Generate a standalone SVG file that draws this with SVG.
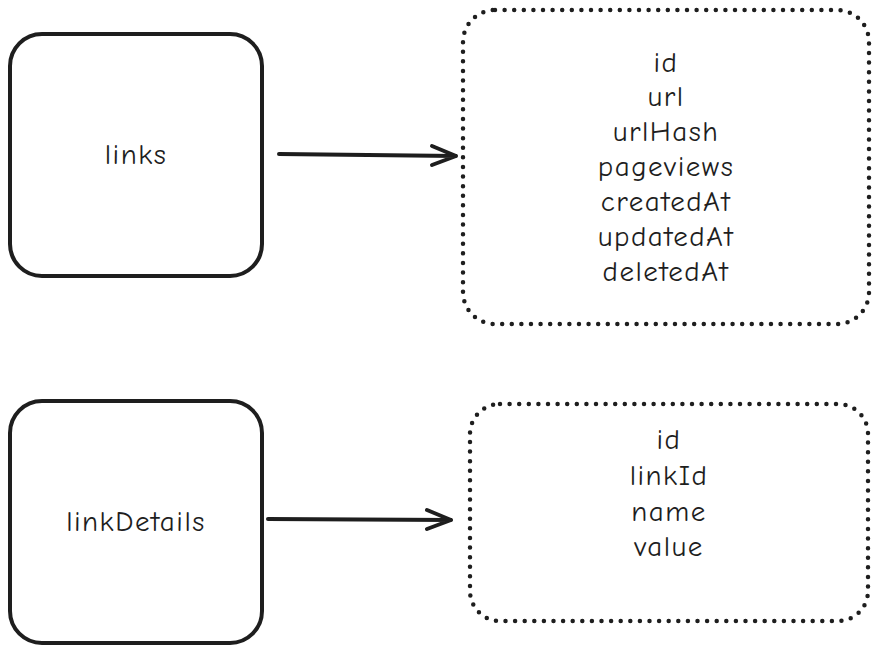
<svg xmlns="http://www.w3.org/2000/svg" width="879" height="653" viewBox="0 0 879 653">
<style>
.solid{fill:none;stroke:#1e1e1e;stroke-width:4}
.dots{fill:none;stroke:#1e1e1e;stroke-width:4.5;stroke-linecap:round;stroke-dasharray:0 9.6}
.t{font-family:"Comic Neue","Liberation Sans",sans-serif;font-size:29px;letter-spacing:1.5px;fill:#1e1e1e;text-anchor:middle}
.arr{fill:none;stroke:#1e1e1e;stroke-width:4;stroke-linecap:round;stroke-linejoin:round}
</style>
<rect width="879" height="653" fill="#fff"/>
<g id="links">
<rect class="solid" x="10" y="34" width="252" height="242" rx="32"/>
<text class="t" x="136" y="164">links</text>
</g>
<g id="links-fields">
<rect class="dots" x="463" y="10" width="406" height="314" rx="32"/>
<text class="t" x="666" y="72">id</text>
<text class="t" x="666" y="106">url</text>
<text class="t" x="666" y="141">urlHash</text>
<text class="t" x="666" y="176">pageviews</text>
<text class="t" x="666" y="211">createdAt</text>
<text class="t" x="666" y="246">updatedAt</text>
<text class="t" x="666" y="281">deletedAt</text>
</g>
<g id="linkDetails">
<rect class="solid" x="10" y="401" width="252" height="242" rx="32"/>
<text class="t" x="136" y="531">linkDetails</text>
</g>
<g id="linkDetails-fields">
<rect class="dots" x="470" y="404" width="398" height="217" rx="30"/>
<text class="t" x="669" y="449">id</text>
<text class="t" x="669" y="485">linkId</text>
<text class="t" x="669" y="521">name</text>
<text class="t" x="669" y="556">value</text>
</g>
<g id="connectors">
<path class="arr" d="M279 154 L456 156 M456 156 L432 146 M456 156 L432 165"/>
<path class="arr" d="M268 519 L451 520 M451 520 L427 510 M451 520 L427 529"/>
</g>
</svg>
